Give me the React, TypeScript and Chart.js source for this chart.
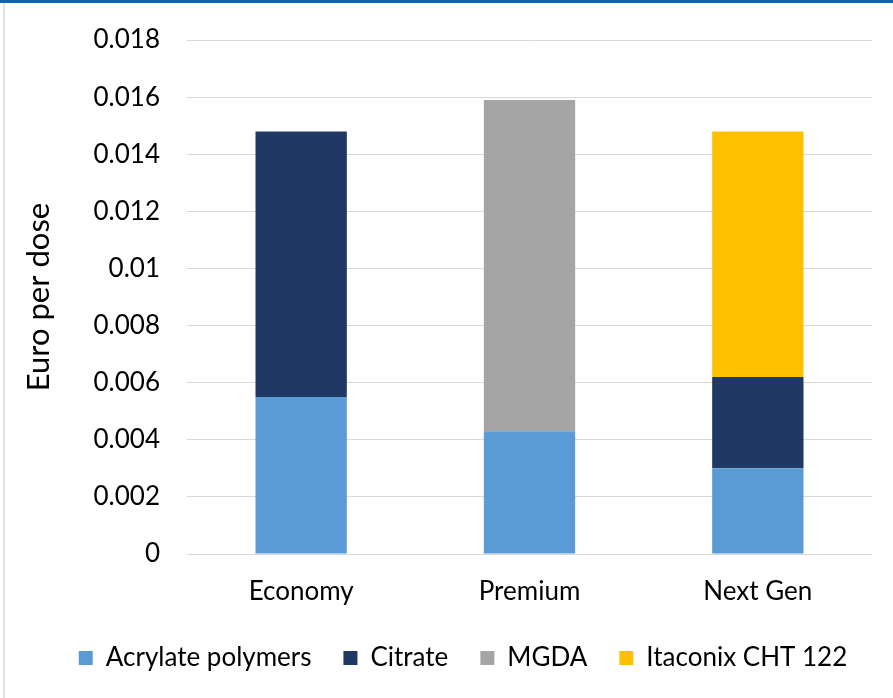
import React, { useEffect, useRef } from "react";
import { Chart, registerables } from "chart.js";

Chart.register(...registerables);

const categories = ["Economy", "Premium", "Next Gen"];
const acrylate = [0.0055, 0.0043, 0.003];
const citrate = [0.0093, 0, 0.0032];
const mgda = [0, 0.0116, 0];
const itaconix = [0, 0, 0.0086];
const yTickLabels: Record<string, string> = {
  "0": "0",
  "0.002": "0.002",
  "0.004": "0.004",
  "0.006": "0.006",
  "0.008": "0.008",
  "0.01": "0.01",
  "0.012": "0.012",
  "0.014": "0.014",
  "0.016": "0.016",
  "0.018": "0.018",
};

const shiftLegend = {
  id: "shiftLegend",
  afterLayout(chart: any) {
    const lg = chart.legend;
    if (lg) {
      lg.left += 27;
      lg.right += 27;
    }
  },
};

export default function App() {
  const ref = useRef<HTMLCanvasElement | null>(null);
  useEffect(() => {
    if (!ref.current) return;
    Chart.defaults.font.family = "Lato";
    const chart = new Chart(ref.current, {
      type: "bar",
      data: {
        labels: categories,
        datasets: [
          { label: "Acrylate polymers", data: acrylate, backgroundColor: "#5b9bd5" },
          { label: "Citrate", data: citrate, backgroundColor: "#203864" },
          { label: "MGDA", data: mgda, backgroundColor: "#a5a5a5" },
          { label: "Itaconix CHT 122", data: itaconix, backgroundColor: "#ffc000" },
        ],
      },
      plugins: [shiftLegend],
      options: {
        animation: false,
        responsive: false,
        maintainAspectRatio: false,
        layout: { padding: { top: 40, right: 21, bottom: 17, left: 0 } },
        datasets: { bar: { barPercentage: 0.4, categoryPercentage: 1 } } as any,
        plugins: {
          tooltip: { enabled: false },
          legend: {
            position: "bottom",
            labels: {
              boxWidth: 14,
              boxHeight: 14,
              padding: 32,
              color: "#000",
              font: { size: 26, family: "Lato" },
            },
          },
        },
        scales: {
          x: {
            stacked: true,
            grid: { display: false },
            border: { display: false },
            afterFit: (s: any) => {
              s.height = 59;
            },
            ticks: { color: "#000", font: { size: 26, family: "Lato" }, padding: 14 },
          },
          y: {
            stacked: true,
            min: 0,
            max: 0.018,
            afterFit: (s: any) => {
              s.width = 187;
              s.paddingTop = 0;
              s.paddingBottom = 0;
            },
            border: { display: false },
            grid: { color: "#d9d9d9", lineWidth: 1, drawTicks: false },
            ticks: {
              stepSize: 0.002,
              color: "#000",
              padding: 27,
              font: { size: 26, family: "Lato" },
              callback: (v: any) => {
                const k = String(Number(Number(v).toFixed(3)));
                return yTickLabels[k] ?? k;
              },
            },
            title: {
              display: true,
              text: "Euro per dose",
              color: "#000",
              font: { size: 31, family: "Lato" },
              padding: { top: 20, bottom: 0 },
            },
          },
        },
      },
    });
    return () => chart.destroy();
  }, []);
  return (
    <div
      style={{
        position: "fixed",
        left: 0,
        top: 0,
        width: 893,
        height: 698,
        background: "#fff",
        overflow: "hidden",
      }}
    >
      <div style={{ position: "absolute", left: 0, top: 0, width: 893, height: 3, background: "#0b66b2" }} />
      <div style={{ position: "absolute", left: 3, top: 3, width: 2, height: 695, background: "#e2e2e2" }} />
      <canvas ref={ref} width={893} height={698} style={{ position: "absolute", left: 0, top: 0 }} />
    </div>
  );
}
